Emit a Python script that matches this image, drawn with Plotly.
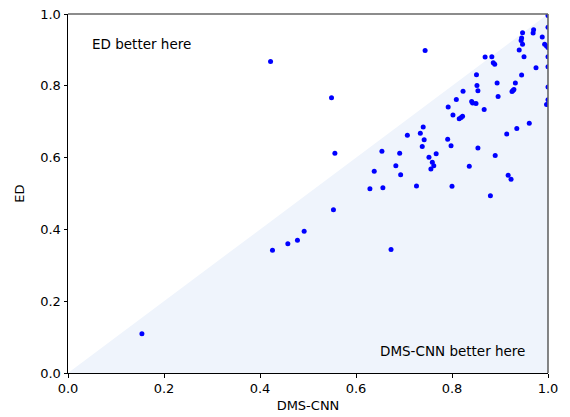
import plotly.graph_objects as go

# Per-image scores of the two methods (x: DMS-CNN, y: ED)
dms_cnn = [
    0.154, 0.422, 0.426, 0.458, 0.478, 0.492, 0.549, 0.556, 0.553, 0.673,
    0.629, 0.638, 0.654, 0.656, 0.683, 0.691, 0.693, 0.707, 0.726, 0.734,
    0.740, 0.738, 0.742, 0.744, 0.752, 0.759, 0.762, 0.756, 0.767, 0.791,
    0.792, 0.798, 0.800, 0.802, 0.809, 0.815, 0.819, 0.822, 0.823, 0.836,
    0.841, 0.843, 0.850, 0.851, 0.852, 0.854, 0.854, 0.867, 0.869, 0.880,
    0.883, 0.886, 0.889, 0.890, 0.894, 0.896, 0.914, 0.917, 0.923, 0.925,
    0.927, 0.929, 0.932, 0.935, 0.940, 0.944, 0.945, 0.947, 0.945, 0.947,
    0.950, 0.961, 0.970, 0.969, 0.975, 0.988, 0.993, 0.997, 1.000, 1.000,
    1.000, 1.000, 1.000, 1.000, 1.000, 0.997,
]
ed = [
    0.109, 0.868, 0.342, 0.360, 0.370, 0.395, 0.767, 0.612, 0.455, 0.344,
    0.513, 0.562, 0.618, 0.516, 0.577, 0.612, 0.552, 0.662, 0.521, 0.668,
    0.685, 0.631, 0.650, 0.898, 0.601, 0.587, 0.577, 0.568, 0.611, 0.651,
    0.741, 0.633, 0.520, 0.719, 0.762, 0.708, 0.712, 0.715, 0.785, 0.576,
    0.756, 0.752, 0.751, 0.831, 0.801, 0.786, 0.627, 0.734, 0.880, 0.494,
    0.881, 0.864, 0.860, 0.606, 0.808, 0.770, 0.666, 0.551, 0.540, 0.784,
    0.787, 0.790, 0.808, 0.681, 0.900, 0.926, 0.933, 0.948, 0.830, 0.916,
    0.881, 0.696, 0.956, 0.947, 0.850, 0.936, 0.916, 0.911, 0.996, 0.963,
    0.907, 0.881, 0.853, 0.797, 0.761, 0.748,
]

tick_vals = [0.0, 0.2, 0.4, 0.6, 0.8, 1.0]
tick_text = ["0.0", "0.2", "0.4", "0.6", "0.8", "1.0"]

FAMILY = "DejaVu Sans"
tick_font = dict(family=FAMILY, size=13, color="black")
title_font = dict(family=FAMILY, size=13, color="black")
note_font = dict(family=FAMILY, size=13.5, color="black")

fig = go.Figure()

# Shaded half below the diagonal
fig.add_trace(go.Scatter(
    x=[0, 1, 1, 0], y=[0, 0, 1, 0],
    mode="lines", fill="toself",
    fillcolor="rgb(239,244,252)", line=dict(width=0),
    hoverinfo="skip", showlegend=False,
))

fig.add_trace(go.Scatter(
    x=dms_cnn, y=ed, mode="markers",
    marker=dict(color="#0000ff", size=5, line=dict(width=0)),
    showlegend=False,
))

axis_common = dict(
    range=[0, 1], tickvals=tick_vals, ticktext=tick_text,
    ticks="outside", ticklen=3.5, tickwidth=0.8, tickcolor="black",
    showgrid=False, zeroline=False, showline=True, linecolor="black",
    linewidth=1, tickfont=tick_font, automargin=False,
)

fig.update_layout(
    width=570, height=417,
    margin=dict(l=68, r=22, t=14, b=44),
    paper_bgcolor="white", plot_bgcolor="white",
    xaxis=dict(title=dict(text="DMS-CNN", font=title_font, standoff=5), **axis_common),
    yaxis=dict(title=dict(text="ED", font=title_font, standoff=12), **axis_common),
    shapes=[
        dict(type="line", xref="paper", yref="paper", x0=0, x1=1, y0=1, y1=1,
             line=dict(color="#666666", width=1.6)),
        dict(type="line", xref="paper", yref="paper", x0=1, x1=1, y0=0, y1=1,
             line=dict(color="#666666", width=1.6)),
    ],
    annotations=[
        dict(x=0.046, y=0.916, xref="x", yref="y", text="ED better here",
             showarrow=False, xanchor="left", yanchor="middle", font=note_font),
        dict(x=0.956, y=0.061, xref="x", yref="y", text="DMS-CNN better here",
             showarrow=False, xanchor="right", yanchor="middle", font=note_font),
    ],
)

fig.write_html("out.html")
